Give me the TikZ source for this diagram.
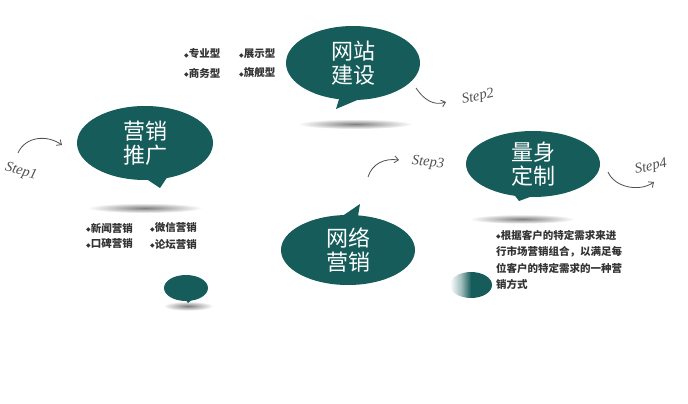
\documentclass[tikz,border=0pt]{standalone}
\usepackage{fontspec}
\newfontfamily\cjk{Noto Sans CJK SC}
\newfontfamily\symf{DejaVu Sans}
\newfontfamily\stepf{Liberation Serif}
\usetikzlibrary{shapes.geometric,arrows.meta}
\definecolor{teal1}{RGB}{22,92,90}
\definecolor{stepgray}{RGB}{80,80,80}
\pgfdeclarehorizontalshading{fadeteal}{100bp}{color(0bp)=(white); color(25bp)=(white); color(38bp)=(teal1!40); color(50bp)=(teal1); color(100bp)=(teal1)}
\newcommand{\dm}{{\symf\fontsize{6}{6}\selectfont\raisebox{0.8pt}{◆}}}
\tikzset{
  bubble/.style={fill=teal1, draw=none},
  shadowell/.style={ellipse, draw=none, inner color=black!50, outer color=white, minimum width=#1, minimum height=10pt},
  bigtxt/.style={text=white, font=\cjk\fontsize{22}{24}\selectfont, align=center, inner sep=0pt},
  listtxt/.style={font=\cjk\bfseries\fontsize{10.5}{16}\selectfont, text=black!80, inner sep=0pt, anchor=west},
  steptxt/.style={font=\stepf\itshape\fontsize{14.5}{14}\selectfont, text=stepgray, inner sep=0pt},
  steparrow/.style={draw=stepgray, line width=0.8pt, -{Straight Barb[length=4pt,width=7pt]}},
}
\begin{document}
\begin{tikzpicture}[x=1pt,y=-1pt]
\useasboundingbox (0,0) rectangle (688,404);
\fill[white] (0,0) rectangle (688,404);

% shadows
\node[shadowell=115pt] (sh1) at (145,208) {};
\node[shadowell=115pt] (sh2) at (355,124) {};
\node[shadowell=105pt, minimum height=9pt] (sh4) at (522,219) {};
\node[shadowell=50pt, minimum height=6pt] (sh5) at (188,306) {};

% bubble 1: 营销推广
\fill[bubble] (142,176) -- (168,176) -- (160,188) -- cycle;
\fill[bubble] (145,143) ellipse [x radius=68, y radius=37];
\node[bigtxt] (b1) at (145,143) {营销\\推广};

% bubble 2: 网站建设
\fill[bubble] (340,96) -- (362,98) -- (336,109) -- cycle;
\fill[bubble] (353,63) ellipse [x radius=67, y radius=37];
\node[bigtxt] (b2) at (353,63) {网站\\建设};

% bubble 3: 网络营销
\fill[bubble] (338,219) -- (358,216) -- (360,204) -- cycle;
\fill[bubble] (348,250) ellipse [x radius=67, y radius=35];
\node[bigtxt] (b3) at (348,250) {网络\\营销};

% bubble 4: 量身定制
\fill[bubble] (512,192) -- (538,194) -- (519,201) -- cycle;
\fill[bubble] (533,164) ellipse [x radius=67, y radius=33];
\node[bigtxt] (b4) at (533,164) {量身\\定制};

% small bubbles
\fill[bubble] (184,298) -- (194,298) -- (188,303) -- cycle;
\fill[bubble] (186,288) ellipse [x radius=22, y radius=13];
\shade[shading=fadeteal] (471,285) ellipse [x radius=21, y radius=13];

% lists
\node[listtxt] (l1a) at (86,228) {\dm 新闻营销};
\node[listtxt] (l1b) at (150,228) {\dm 微信营销};
\node[listtxt] (l1c) at (86,244) {\dm 口碑营销};
\node[listtxt] (l1d) at (150,244) {\dm 论坛营销};

\node[listtxt] (l2a) at (184,54) {\dm 专业型};
\node[listtxt] (l2b) at (239,54) {\dm 展示型};
\node[listtxt] (l2c) at (184,73) {\dm 商务型};
\node[listtxt] (l2d) at (239,73) {\dm 旗舰型};

\node[listtxt, anchor=north west, align=left, font=\cjk\bfseries\fontsize{10.5}{16.5}\selectfont] (l4) at (496,230)
  {\dm 根据客户的特定需求来进\\行市场营销组合，以满足每\\位客户的特定需求的一种营\\销方式};

% steps
\node[steptxt, rotate=-15] (s1) at (21,172) {Step1};
\coordinate (a1s) at (18,153);
\coordinate (a1e) at (62,145);
\draw[steparrow] (a1s) .. controls (25,137) and (46,134) .. (a1e);

\node[steptxt, rotate=12] (s2) at (478,97) {Step2};
\coordinate (a2s) at (416,88);
\coordinate (a2e) at (446,102);
\draw[steparrow] (a2s) .. controls (424,100) and (434,106) .. (a2e);

\node[steptxt, rotate=-5] (s3) at (428,163) {Step3};
\coordinate (a3s) at (368,177);
\coordinate (a3e) at (399,160);
\draw[steparrow] (a3s) .. controls (372,164) and (384,158) .. (a3e);

\node[steptxt, rotate=12] (s4) at (651,167) {Step4};
\coordinate (a4s) at (608,172);
\coordinate (a4e) at (654,182);
\draw[steparrow] (a4s) .. controls (615,188) and (640,192) .. (a4e);
\end{tikzpicture}
\end{document}
